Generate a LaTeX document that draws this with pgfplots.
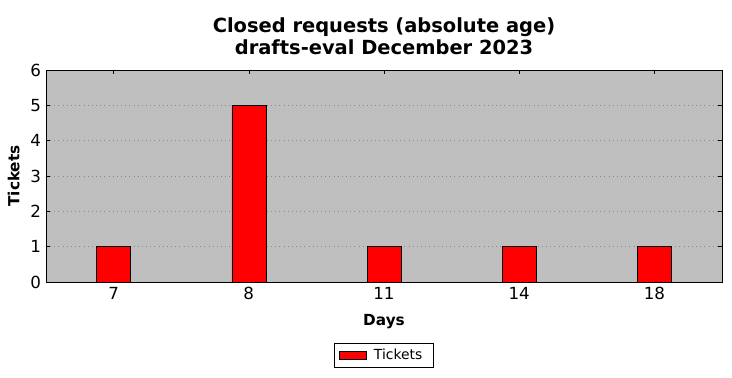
\documentclass[border=0pt]{standalone}
\usepackage{pgfplots}
\pgfplotsset{compat=1.18}
\usepackage{fontspec}
\setmainfont{DejaVu Sans}
\definecolor{bggray}{RGB}{191,191,191}
\definecolor{gridgray}{RGB}{135,135,135}
\begin{document}
\begin{tikzpicture}[x=0.72pt,y=0.72pt]
\path[use as bounding box] (-46,-96) rectangle (686,282);
\begin{axis}[
  at={(0,0)}, anchor=south west,
  scale only axis,
  width=486.72pt, height=152.64pt,
  axis background/.style={fill=bggray},
  xmin=-0.5, xmax=4.5, ymin=0, ymax=6,
  xtick={0,1,2,3,4}, xticklabels={7,8,11,14,18},
  ytick={0,1,2,3,4,5,6},
  tick align=inside,
  major tick length=3pt,
  tick style={black, thin},
  ymajorgrids,
  grid style={gridgray, line width=0.5pt, dash pattern=on 0.6pt off 2.4pt},
  ticklabel style={font=\fontsize{12}{14}\selectfont},
  /pgf/number format/assume math mode=true,
  xlabel={\textbf{Days}},
  ylabel={\textbf{Tickets}},
  xlabel style={font=\fontsize{11}{13}\selectfont, yshift=-4pt},
  ylabel style={font=\fontsize{11}{13}\selectfont, yshift=1pt},
  title={\textbf{Closed requests (absolute age)}\\\textbf{drafts-eval December 2023}},
  title style={font=\fontsize{14}{16}\selectfont, align=center, yshift=1.5pt},
  legend style={at={(0.5,-0.347)}, anchor=center, font=\fontsize{10}{12}\selectfont, draw=black, inner xsep=3pt, inner ysep=2pt},
  legend image code/.code={\draw[#1] (0cm,-0.1cm) rectangle (0.7cm,0.1cm);},
  legend cell align=left,
  legend style={nodes={inner xsep=5pt}},
  axis line style={black},
]
\addplot[ybar, bar width=24.48pt, fill=red, draw=black] coordinates {(0,1) (1,5) (2,1) (3,1) (4,1)};
\addlegendentry{Tickets}
\end{axis}
\end{tikzpicture}
\end{document}
